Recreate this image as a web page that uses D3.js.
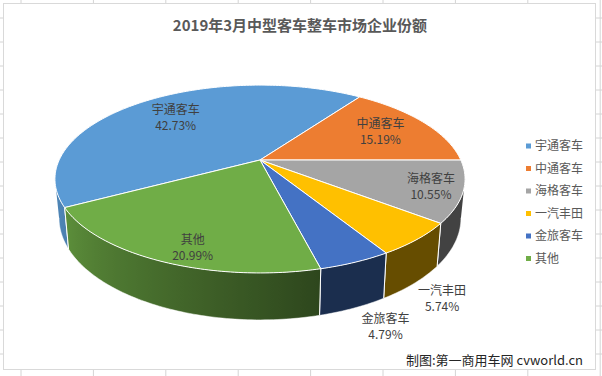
<!DOCTYPE html>
<html>
<head>
<meta charset="utf-8">
<script src="https://cdn.jsdelivr.net/npm/d3@7"></script>
<style>
  body { margin: 0; background: #fff; }
  svg { display: block; font-family: "Noto Sans CJK SC", "Noto Sans", sans-serif; }
</style>
</head>
<body>
<div id="chart"></div>
<script>
// chart data
const categories = ['宇通客车', '中通客车', '海格客车', '一汽丰田', '金旅客车', '其他'];
const shares = [42.73, 15.19, 10.55, 5.74, 4.79, 20.99];
const palette = ['#5B9BD5', '#ED7D31', '#A5A5A5', '#FFC000', '#4472C4', '#70AD47'];
const title = '2019年3月中型客车整车市场企业份额';

const width = 602, height = 376;
const deg = Math.PI / 180;

const svg = d3.select('#chart').append('svg')
    .attr('width', width)
    .attr('height', height);
const defs = svg.append('defs');

// spreadsheet grid behind the chart
const colX = d3.range(9).map(i => 21 + i * 72.4);
const rowY = d3.range(16).map(i => 18 + i * 24);
svg.selectAll('.gx').data(colX).enter().append('line')
    .attr('x1', d => d).attr('x2', d => d).attr('y1', 0).attr('y2', height)
    .style('stroke', '#d4d4d4');
svg.selectAll('.gy').data(rowY).enter().append('line')
    .attr('x1', 0).attr('x2', width).attr('y1', d => d).attr('y2', d => d)
    .style('stroke', '#d4d4d4');

// chart area
svg.append('rect')
    .attr('x', 3.5).attr('y', 3.5).attr('width', 592).attr('height', 366)
    .style('fill', '#fff').style('stroke', '#d9d9d9');

svg.append('text')
    .attr('x', 300).attr('y', 31)
    .attr('text-anchor', 'middle')
    .style('font-size', '15px').style('font-weight', 'bold').style('fill', '#595959')
    .text(title);

// 3d projection of the pie disc
const cx = 260, cy = 160, A = 992, B = 445, D = 4.94, CH = 185, K = 0.98;
function project(theta, r, bottom) {
    const u = r * Math.sin(theta), v = -r * Math.cos(theta), d = D - v;
    let x = cx + A * u / d, y = cy + B * v / d;
    if (bottom) { x = cx + (x - cx) * K; y += CH / d; }
    return [x, y];
}

const startAngle = -118.5 * deg;
const pie = d3.pie().sort(null).startAngle(startAngle).endAngle(startAngle + 2 * Math.PI);
const arcs = pie(shares);

// wall lighting: lighter on the left, darker to the right
const light = d3.scaleLinear().domain([165, 245]).range([0.4, 0.85]).clamp(true);
function norm(a) { let t = a / deg % 360; return t < 0 ? t + 360 : t; }
function shade(color, theta) {
    const c = d3.rgb(color), f = light(norm(theta));
    return d3.rgb(c.r * f, c.g * f, c.b * f).toString();
}

const visLo = 101.5 * deg, visHi = 258.5 * deg;
const walls = svg.append('g');
arcs.forEach((a, i) => {
    // bring angles into 0..2PI
    let s = a.startAngle, e = a.endAngle;
    while (s < 0) { s += 2 * Math.PI; e += 2 * Math.PI; }
    const segs = [[s, e], [s - 2 * Math.PI, e - 2 * Math.PI]];
    segs.forEach(([s0, e0], j) => {
        const lo = Math.max(s0, visLo), hi = Math.min(e0, visHi);
        if (hi <= lo) return;
        const n = Math.max(2, Math.ceil((hi - lo) / deg));
        const ts = d3.range(n + 1).map(k => lo + (hi - lo) * k / n);
        const topLine = ts.map(t => project(t, 1, false));
        const botLine = ts.map(t => project(t, 1, true));

        // horizontal gradient following the angle along the wall
        const xs = topLine.map(p => p[0]);
        const x0 = d3.min(xs), x1 = d3.max(xs);
        const id = 'wall' + i + '_' + j;
        const grad = defs.append('linearGradient').attr('id', id)
            .attr('gradientUnits', 'userSpaceOnUse')
            .attr('x1', x0).attr('x2', x1).attr('y1', 0).attr('y2', 0);
        ts.map((t, k) => [(xs[k] - x0) / (x1 - x0 || 1), shade(palette[i], t)])
            .sort((p, q) => p[0] - q[0])
            .forEach(st => grad.append('stop').attr('offset', st[0]).attr('stop-color', st[1]));

        walls.append('path')
            .attr('d', 'M' + topLine.join('L') + 'L' + botLine.slice().reverse().join('L') + 'Z')
            .style('fill', 'url(#' + id + ')');
        // bottom edge
        walls.append('path')
            .attr('d', 'M' + botLine.join('L'))
            .style('fill', 'none').style('stroke', '#ffffff').style('stroke-opacity', 0.5);
        // vertical edges at slice borders
        [s0, e0].forEach(t => {
            if (t > visLo && t < visHi) {
                const p = project(t, 1, false), q = project(t, 1, true);
                walls.append('line')
                    .attr('x1', p[0]).attr('y1', p[1]).attr('x2', q[0]).attr('y2', q[1])
                    .style('stroke', '#ffffff').style('stroke-width', 1);
            }
        });
    });
});

// top faces
const tops = svg.append('g');
arcs.forEach((a, i) => {
    const n = Math.ceil((a.endAngle - a.startAngle) / deg);
    const pts = d3.range(n + 1).map(k => project(a.startAngle + (a.endAngle - a.startAngle) * k / n, 1, false));
    tops.append('path')
        .attr('d', 'M' + [cx, cy] + 'L' + pts.join('L') + 'Z')
        .style('fill', palette[i])
        .style('stroke', '#ffffff').style('stroke-width', 1).style('stroke-linejoin', 'round');
});

// data labels
const labelR = [0.7, 0.72, 0.85, 1.15, 1.16, 0.86];
const labelShift = [0, 0, 0, 0, -3, -4.7];
const labelOut = [false, false, false, true, true, false];
const labels = svg.append('g');
arcs.forEach((a, i) => {
    const mid = (a.startAngle + a.endAngle) / 2 + labelShift[i] * deg;
    const p = project(mid, labelR[i], labelOut[i]);
    const g = labels.append('g').attr('transform', 'translate(' + p + ')');
    g.append('text').attr('y', -8).attr('dy', '0.35em')
        .attr('text-anchor', 'middle')
        .style('font-size', '12px').style('fill', '#404040')
        .text(categories[i]);
    g.append('text').attr('y', 8).attr('dy', '0.35em')
        .attr('text-anchor', 'middle')
        .style('font-size', '12px').style('fill', '#404040')
        .text(shares[i].toFixed(2) + '%');
});

// legend
const ly = d3.scalePoint().domain(categories).range([146, 258.5]);
const legend = svg.append('g');
categories.forEach((c, i) => {
    legend.append('rect')
        .attr('x', 526).attr('y', ly(c) - 2.5).attr('width', 5).attr('height', 5)
        .style('fill', palette[i]);
    legend.append('text')
        .attr('x', 535).attr('y', ly(c)).attr('dy', '0.35em')
        .style('font-size', '12px').style('fill', '#595959')
        .text(c);
});

svg.append('text')
    .attr('x', 583).attr('y', 365)
    .attr('text-anchor', 'end')
    .style('font-size', '13px').style('fill', '#262626')
    .text('制图:第一商用车网 cvworld.cn');
</script>
</body>
</html>
